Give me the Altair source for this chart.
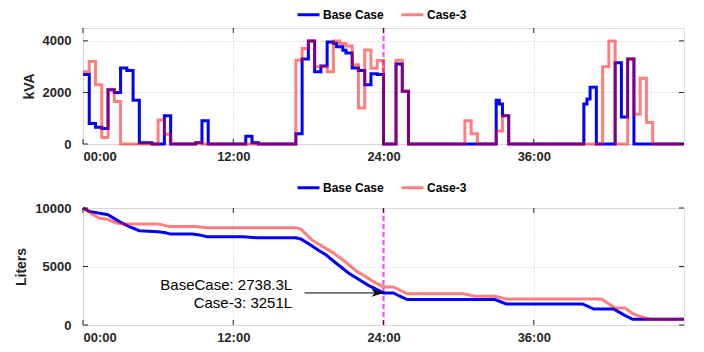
import altair as alt
import pandas as pd

series_names = ["Base Case", "Case-3"]

# Top panel: apparent power (kVA), step values at change points (hours)
base_kva_t = [0, 0.5, 1.0, 1.5, 2.0, 2.5, 3.0, 3.5, 4.0, 4.5, 5.5, 6.5, 7.0, 9.0, 9.5, 10.0,
              13.0, 13.5, 14.0, 17.0, 17.5, 18.0, 18.5, 19.0, 19.5, 20.0, 20.25, 20.75, 21.0,
              21.5, 22.0, 22.5, 23.0, 23.5, 24.0, 25.0, 25.5, 26.0, 33.0, 33.25, 33.5, 34.0,
              40.0, 40.25, 40.5, 41.0, 42.5, 43.0, 43.5, 44.0, 48.0]
base_kva = [2700, 800, 650, 600, 2100, 2000, 2950, 2850, 1700, 50, 0, 1100, 0, 50, 900, 0,
            300, 50, 0, 400, 3300, 4000, 2800, 3030, 3960, 3900, 3770, 3640, 3530,
            2950, 2850, 2300, 2730, 2700, 0, 3100, 2050, 0, 1700, 1550, 1100, 0,
            1550, 1750, 2200, 0, 3150, 1050, 3300, 0, 0]
case3_kva_t = [0, 0.5, 1.0, 1.5, 2.0, 2.5, 3.0, 6.0, 6.5, 7.0, 9.0, 9.5, 17.0, 17.5, 18.0,
               18.5, 19.5, 20.0, 20.5, 21.0, 21.5, 22.0, 22.5, 23.0, 23.5, 24.0, 25.0, 25.5,
               26.0, 30.5, 31.0, 31.5, 33.0, 33.5, 34.0, 41.5, 42.0, 42.5, 43.5, 44.0, 44.5,
               45.0, 45.5, 48.0]
case3_kva = [2800, 3200, 2300, 250, 2100, 1650, 0, 930, 380, 0, 50, 0, 3250, 3700, 4000,
             3000, 2800, 4000, 3900, 3800, 3070, 1400, 3650, 2940, 3240, 0, 3250, 2050,
             0, 900, 400, 0, 500, 1100, 0, 3000, 4000, 0, 3300, 1150, 2550,
             830, 0, 0]

# Bottom panel: fuel level (liters)
base_fuel_t = [0, 0.5, 2.0, 2.9, 3.7, 4.5, 6.0, 6.6, 7.0, 8.7, 9.3, 9.9, 12.8, 13.9, 17.0,
               17.4, 18.3, 18.8, 19.4, 20.2, 21.2, 22.0, 22.8, 24.0, 24.8, 25.3, 25.9, 32.9,
               33.8, 39.9, 40.8, 42.4, 43.2, 43.9, 48.0]
base_fuel = [10000, 9710, 9420, 8840, 8410, 8060, 7970, 7880, 7770, 7770, 7700, 7540, 7540,
             7450, 7450, 7350, 6750, 6380, 6000, 5300, 4450, 3910, 3390, 2738.3, 2738.3, 2460,
             2170, 2170, 1800, 1800, 1360, 1360, 870, 490, 490]
case3_fuel_t = [0, 0.6, 1.3, 1.95, 2.75, 3.4, 5.8, 6.1, 6.9, 9.0, 9.9, 17.0, 17.4, 18.3, 19.9,
                21.0, 21.9, 22.4, 23.1, 24.0, 24.8, 25.9, 30.4, 31.3, 32.9, 33.8, 41.4, 42.5,
                43.3, 43.9, 44.6, 45.3, 48.0]
case3_fuel = [10000, 9570, 9130, 9040, 8700, 8640, 8640, 8620, 8410, 8410, 8320, 8320, 8200,
              7250, 6230, 5360, 4550, 4260, 3770, 3251, 3251, 2670, 2670, 2460, 2460, 2230,
              2230, 1450, 1450, 960, 700, 490, 490]

x_tick_values = [0, 12, 24, 36]
kva_ticks = [0, 2000, 4000]
fuel_ticks = [0, 5000, 10000]
marker_hour = 24
ann_lines = ["BaseCase: 2738.3L", "Case-3: 3251L"]
ann_x = 16.7
ann_y = [3450, 1900]
arrow_from = 17.7
arrow_value = 2738.3

W = 601
H1 = 116
H2 = 117
FONT = "Liberation Sans"
TXT = "#262626"
BLUE = "#0000ff"
RED = "#ff0000"
PINK = "#ff8080"
MAGENTA = "#ff44ff"

hour_expr = "(datum.value < 10 ? '0' : '') + datum.value + ':00'"


def mk_df(t, v, name):
    return pd.DataFrame({"t": t, "v": v, "series": name})


def panel(base_df, case_df, ydomain, yticks, ytitle, H, legend_y, interp, extra=None):
    xs = alt.Scale(domain=[0, 48], nice=False, zero=False)
    ys = alt.Scale(domain=ydomain, nice=False)
    xaxis = alt.Axis(values=x_tick_values, labelExpr=hour_expr, title=None, grid=True,
                     ticks=False, domain=False, labelPadding=6, labelFontSize=13,
                     labelFontWeight="bold", labelFont=FONT, labelColor=TXT,
                     gridColor="#cfcfcf", gridDash=[1, 2])
    yaxis = alt.Axis(values=yticks, format="d", title=ytitle, grid=True, ticks=False,
                     domain=False, labelPadding=12, labelFontSize=13, labelFontWeight="bold",
                     labelFont=FONT, labelColor=TXT, titleFont=FONT, titleFontSize=14,
                     titleFontWeight="bold", titleColor=TXT, titlePadding=6,
                     gridColor="#cfcfcf", gridDash=[1, 2])

    vline = alt.Chart(pd.DataFrame({"t": [marker_hour]})).mark_rule(
        color=MAGENTA, strokeDash=[5, 3], strokeWidth=2
    ).encode(x=alt.X("t:Q", scale=xs, axis=xaxis))

    blue = alt.Chart(base_df).mark_line(strokeWidth=3, interpolate=interp).encode(
        x=alt.X("t:Q", scale=xs, axis=xaxis),
        y=alt.Y("v:Q", scale=ys, axis=yaxis),
        color=alt.Color("series:N",
                        scale=alt.Scale(domain=series_names, range=[BLUE, PINK]),
                        legend=alt.Legend(orient="none", legendX=213, legendY=legend_y,
                                          direction="horizontal", title=None,
                                          symbolType="stroke", symbolSize=484,
                                          symbolStrokeWidth=3, labelFont=FONT,
                                          labelFontSize=12, labelFontWeight="bold",
                                          labelColor="#000000", labelOffset=2,
                                          columnPadding=11)),
    )
    red = alt.Chart(case_df).mark_line(strokeWidth=3, color=RED, opacity=0.5,
                                       interpolate=interp).encode(
        x=alt.X("t:Q", scale=xs), y=alt.Y("v:Q", scale=ys))

    xt = pd.DataFrame({"t": x_tick_values})
    yt = pd.DataFrame({"v": yticks})
    tb = alt.Chart(xt).mark_rule(color=TXT).encode(x="t:Q", y=alt.value(H), y2=alt.value(H - 5))
    tt = alt.Chart(xt).mark_rule(color=TXT).encode(x="t:Q", y=alt.value(0), y2=alt.value(5))
    tl = alt.Chart(yt).mark_rule(color=TXT).encode(y="v:Q", x=alt.value(0), x2=alt.value(5))
    tr = alt.Chart(yt).mark_rule(color=TXT).encode(y="v:Q", x=alt.value(W - 5), x2=alt.value(W))

    layers = [vline, blue, red, tb, tt, tl, tr]
    if extra is not None:
        layers += extra
    return alt.layer(*layers).properties(width=W, height=H)


top_base = mk_df(base_kva_t, base_kva, series_names[0])
top_case = mk_df(case3_kva_t, case3_kva, series_names[1])
bot_base = mk_df(base_fuel_t, base_fuel, series_names[0])
bot_case = mk_df(case3_fuel_t, case3_fuel, series_names[1])

ann_df = pd.DataFrame({"t": [ann_x] * len(ann_lines), "v": ann_y, "label": ann_lines})
ann = alt.Chart(ann_df).mark_text(align="right", baseline="middle", font=FONT, fontSize=15,
                                  color="#000000").encode(x="t:Q", y="v:Q", text="label:N")
arrow_df = pd.DataFrame({"t": [arrow_from], "t2": [marker_hour], "v": [arrow_value]})
arrow_line = alt.Chart(arrow_df).mark_rule(color="#000000", strokeWidth=1).encode(
    x="t:Q", x2="t2:Q", y="v:Q")
head_df = pd.DataFrame({"t": [marker_hour], "v": [arrow_value]})
arrow_head = alt.Chart(head_df).mark_point(
    shape="M 0 0 L -1 -0.32 L -0.72 0 L -1 0.32 Z", size=576, filled=True,
    color="#000000", opacity=1
).encode(x="t:Q", y="v:Q")

top = panel(top_base, top_case, [0, 4500], kva_ticks, "kVA", H1, -26, "step-after")
bottom = panel(bot_base, bot_case, [0, 10000], fuel_ticks, "Liters", H2, -33, "linear",
               extra=[ann, arrow_line, arrow_head])

chart = alt.vconcat(top, bottom, spacing=10).resolve_scale(
    color="independent"
).resolve_legend(color="independent").properties(
    padding={"left": 6, "top": -7, "right": 5, "bottom": 0}
).configure_view(stroke=TXT, strokeWidth=1).configure(background="white")

chart.save("out.html", embed_options={"renderer": "svg", "actions": False})
